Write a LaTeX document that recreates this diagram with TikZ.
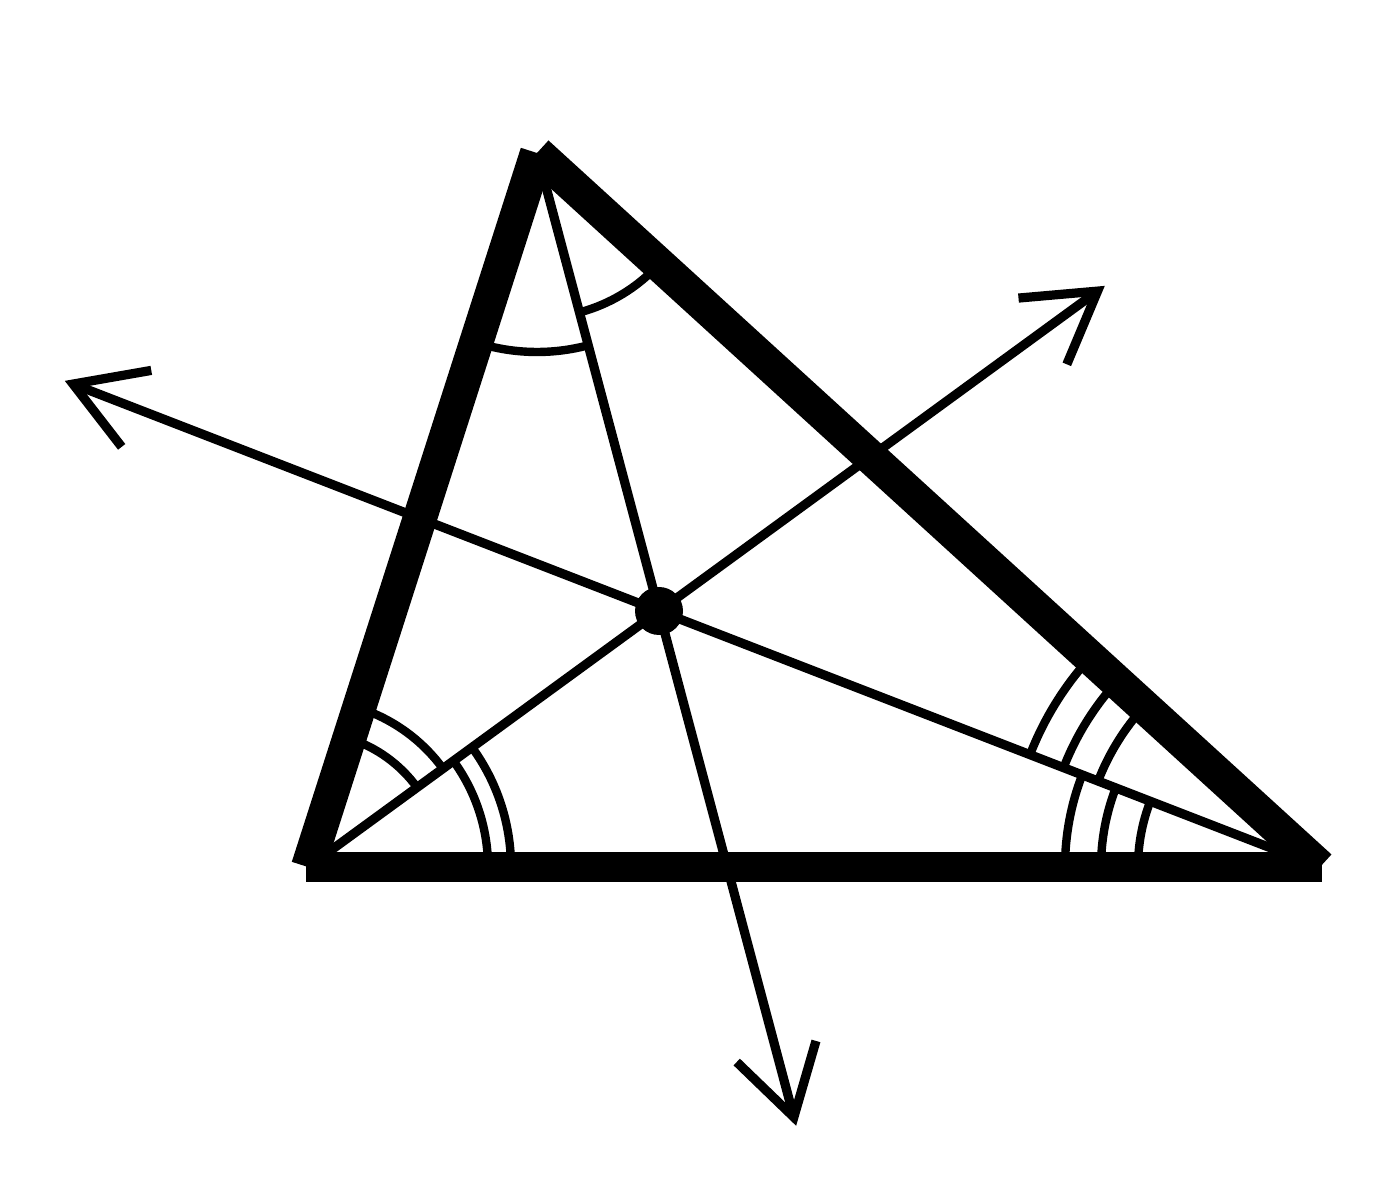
\documentclass[tikz,border=0pt]{standalone}
\usetikzlibrary{arrows.meta,calc}
\begin{document}
\begin{tikzpicture}[x=0.5pt,y=0.5pt,
  side/.style={line width=17pt, line cap=butt},
  basestroke/.style={line width=15pt, line cap=butt},
  bis/.style={line width=4.6pt, -{Straight Barb[length=34pt,width=41pt]}},
  anglearc/.style={line width=4.2pt}]
\useasboundingbox (0,0) rectangle (1395,1200);
\coordinate (A) at (537,1047);
\coordinate (B) at (308,333);
\coordinate (C) at (1320,333);
\coordinate (BL) at (306,333);
\coordinate (BR) at (1322,333);
\coordinate (I) at (659,589);
\coordinate (TA) at ($(A)!2.124!(I)$);
\coordinate (TB) at ($(B)!2.27!(I)$);
\coordinate (TC) at ($(C)!1.899!(I)$);
% bisectors
\draw[bis] (A) -- (TA);
\draw[bis] (B) -- (TB);
\draw[bis] (C) -- (TC);
% angle marks at A
\draw[anglearc] ($(A)+(252.2:199)$) arc[start angle=252.2, end angle=284.9, radius=199];
\draw[anglearc] ($(A)+(284.9:165)$) arc[start angle=284.9, end angle=317.6, radius=165];
% angle marks at B
\draw[anglearc] ($(B)+(0:180)$) arc[start angle=0, end angle=36.1, radius=180];
\draw[anglearc] ($(B)+(0:203)$) arc[start angle=0, end angle=36.1, radius=203];
\draw[anglearc] ($(B)+(36.1:135)$) arc[start angle=36.1, end angle=72.2, radius=135];
\draw[anglearc] ($(B)+(36.1:167)$) arc[start angle=36.1, end angle=72.2, radius=167];
% angle marks at C
\draw[anglearc] ($(C)+(158.8:182)$) arc[start angle=158.8, end angle=180, radius=182];
\draw[anglearc] ($(C)+(158.8:219)$) arc[start angle=158.8, end angle=180, radius=219];
\draw[anglearc] ($(C)+(158.8:255)$) arc[start angle=158.8, end angle=180, radius=255];
\draw[anglearc] ($(C)+(137.6:238)$) arc[start angle=137.6, end angle=158.8, radius=238];
\draw[anglearc] ($(C)+(137.6:275)$) arc[start angle=137.6, end angle=158.8, radius=275];
\draw[anglearc] ($(C)+(137.6:311)$) arc[start angle=137.6, end angle=158.8, radius=311];
% triangle sides
\draw[side] (B) -- (A);
\draw[side] (A) -- (C);
\draw[basestroke] (BL) -- (BR);
% incenter
\fill (I) circle[radius=24];
\end{tikzpicture}
\end{document}
